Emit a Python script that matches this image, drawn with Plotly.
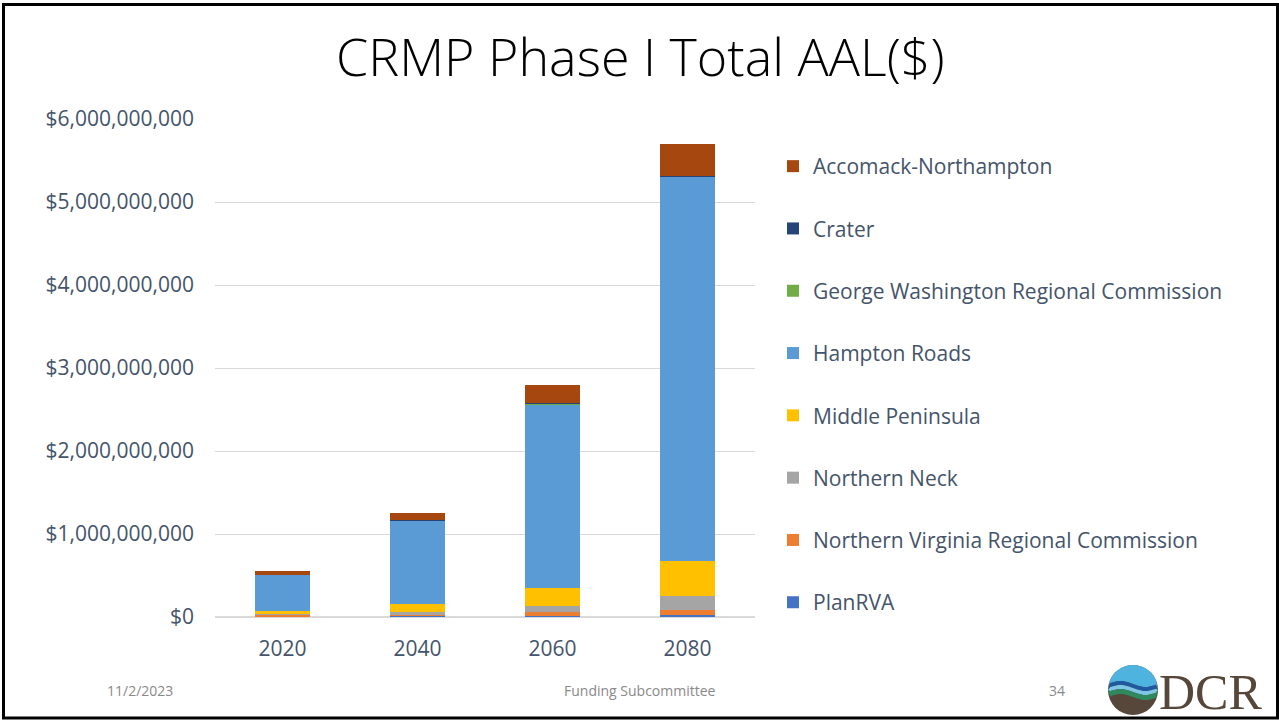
import plotly.graph_objects as go
import math

years = ["2020", "2040", "2060", "2080"]

plan_rva = [3e6, 12e6, 12e6, 24e6]
northern_virginia = [30e6, 8e6, 48e6, 60e6]
northern_neck = [5e6, 42e6, 72e6, 169e6]
middle_peninsula = [36e6, 96e6, 217e6, 422e6]
hampton_roads = [434e6, 1000e6, 2217e6, 4627e6]
george_washington = [1e6, 2e6, 3e6, 4e6]
crater = [2e6, 8e6, 5e6, 12e6]
accomack_northampton = [45e6, 84e6, 217e6, 386e6]

series = [
    ("PlanRVA", plan_rva, "#4472C4"),
    ("Northern Virginia Regional Commission", northern_virginia, "#ED7D31"),
    ("Northern Neck", northern_neck, "#A5A5A5"),
    ("Middle Peninsula", middle_peninsula, "#FFC000"),
    ("Hampton Roads", hampton_roads, "#5B9BD5"),
    ("George Washington Regional Commission", george_washington, "#70AD47"),
    ("Crater", crater, "#264478"),
    ("Accomack-Northampton", accomack_northampton, "#A5470F"),
]

W, H = 1279, 721
L, R, T, B = 215, 755, 119, 617
TXT = "#44546A"
FONT = "Open Sans"

def px(x):
    return (x - L) / (R - L)

def py(y):
    return (B - y) / (B - T)

fig = go.Figure()
n_series = len(series)
for i, (name, vals, col) in enumerate(series):
    fig.add_trace(go.Bar(
        x=years, y=vals, name=name, marker=dict(color=col, line=dict(width=0)),
        width=0.41, legendgroup=f"g{i}", legendrank=100 + (n_series - i),
    ))

shapes = []
# slide border
shapes.append(dict(type="rect", xref="paper", yref="paper",
                   x0=px(3.5), x1=px(1277.5), y0=py(4.5), y1=py(718),
                   line=dict(color="black", width=3), fillcolor="rgba(0,0,0,0)", layer="above"))
# DCR logo circle
cx, cy, r = 1133, 690, 25
shapes.append(dict(type="circle", xref="paper", yref="paper",
                   x0=px(cx - r), x1=px(cx + r), y0=py(cy + r), y1=py(cy - r),
                   fillcolor="#57473A", line=dict(width=0)))

def band(y_top, y_bot, col):
    pts = []
    n = 24
    for k in range(n + 1):
        x = cx - r + 2 * r * k / n
        yy = y_top + 3 * math.sin((x - cx) / r * math.pi)
        dy = math.sqrt(max(r * r - (x - cx) ** 2, 0))
        yy = max(min(yy, cy + dy), cy - dy)
        pts.append((x, yy))
    for k in range(n, -1, -1):
        x = cx - r + 2 * r * k / n
        yy = y_bot + 3 * math.sin((x - cx) / r * math.pi)
        dy = math.sqrt(max(r * r - (x - cx) ** 2, 0))
        yy = max(min(yy, cy + dy), cy - dy)
        pts.append((x, yy))
    path = "M " + " L ".join(f"{px(a):.5f},{py(b):.5f}" for a, b in pts) + " Z"
    return dict(type="path", xref="paper", yref="paper", path=path,
                fillcolor=col, line=dict(width=0))

shapes.append(band(cy - r - 1, cy - 6, "#4FB3E0"))
shapes.append(band(cy - 6, cy - 2, "#1F5AA0"))
shapes.append(band(cy - 2, cy + 2, "#7FC6E6"))
shapes.append(band(cy + 2, cy + 7, "#2E8A5E"))

annotations = [
    dict(text="CRMP Phase I Total AAL($)", x=px(640), y=py(56), xref="paper", yref="paper",
         showarrow=False, xanchor="center", yanchor="middle",
         font=dict(family=FONT, size=52, color="black", weight=300)),
    dict(text="11/2/2023", x=px(140), y=py(690), xref="paper", yref="paper",
         showarrow=False, xanchor="center", yanchor="middle",
         font=dict(family=FONT, size=14, color="#898989")),
    dict(text="Funding Subcommittee", x=px(640), y=py(690), xref="paper", yref="paper",
         showarrow=False, xanchor="center", yanchor="middle",
         font=dict(family=FONT, size=14, color="#898989")),
    dict(text="34", x=px(1057), y=py(690), xref="paper", yref="paper",
         showarrow=False, xanchor="center", yanchor="middle",
         font=dict(family=FONT, size=14, color="#898989")),
    dict(text="DCR", x=px(1157), y=py(692), xref="paper", yref="paper",
         showarrow=False, xanchor="left", yanchor="middle",
         font=dict(family="Liberation Serif", size=50, color="#57473A")),
]

fig.update_layout(
    width=W, height=H,
    margin=dict(l=L, r=W - R, t=T, b=H - B, pad=0),
    paper_bgcolor="white", plot_bgcolor="white",
    barmode="stack",
    font=dict(family=FONT, color=TXT),
    showlegend=True,
    legend=dict(x=px(773), y=py(146), xanchor="left", yanchor="top",
                traceorder="grouped", tracegroupgap=32,
                font=dict(family=FONT, size=21, color=TXT),
                bgcolor="rgba(0,0,0,0)"),
    xaxis=dict(showgrid=False, showline=False, ticks="", zeroline=False,
               tickfont=dict(family=FONT, size=21, color=TXT), ticklabelstandoff=17),
    yaxis=dict(range=[0, 6e9], dtick=1e9, tickformat="$,.0f", showgrid=True,
               gridcolor="#D9D9D9", gridwidth=1, zeroline=True, zerolinecolor="#D9D9D9",
               showline=False, ticks="", tickfont=dict(family=FONT, size=21, color=TXT),
               ticklabelstandoff=20),
    shapes=shapes,
    annotations=annotations,
)

fig.write_html("out.html", config={"displayModeBar": False},
               post_script="document.body.style.margin='0';")
